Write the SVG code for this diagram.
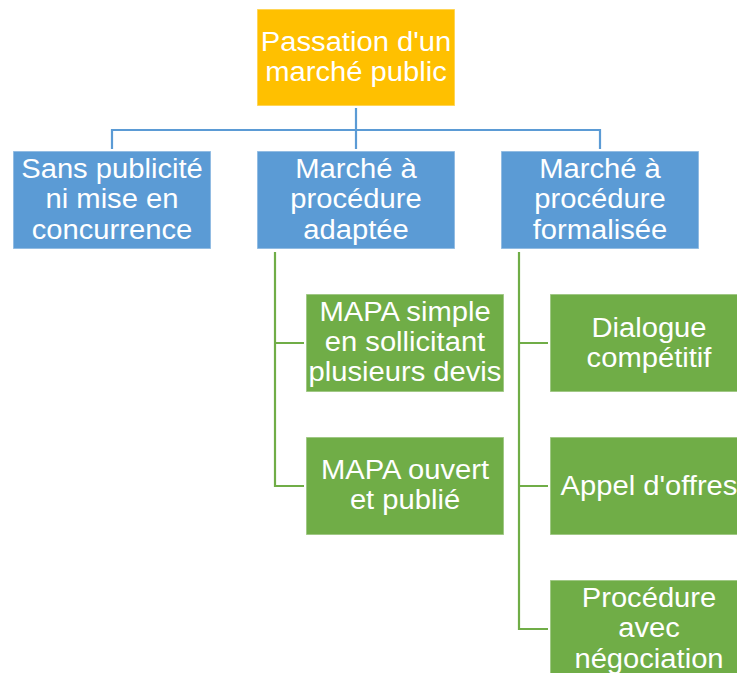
<svg xmlns="http://www.w3.org/2000/svg" width="737" height="673" viewBox="0 0 737 673">
<style>
.box{stroke:#ffffff;stroke-opacity:0.45;stroke-width:1.5}
.root{fill:#FFC000}
.l2{fill:#5B9BD5}
.l3{fill:#70AD47}
.lbl{font-family:"Liberation Sans",Arial,sans-serif;font-size:27px;fill:#ffffff;text-anchor:middle}
.cb{fill:none;stroke:#5B9BD5;stroke-width:2.2}
.cg{fill:none;stroke:#70AD47;stroke-width:2.2}
</style>
<rect width="737" height="673" fill="#ffffff"/>
<g id="connectors">
<path class="cb" d="M356,108 V130 M112,130 H600 M112,129 V149 M356,130 V149 M600,129 V149"/>
<path class="cg" d="M275,252 V487 M274,343 H304 M274,486 H304"/>
<path class="cg" d="M519,252 V630 M518,343 H548 M518,486 H548 M518,629 H548"/>
</g>
<g id="n-root">
<rect class="box root" x="257" y="9" width="198" height="97"/>
<text class="lbl" transform="translate(356,0) scale(1.08,1)"><tspan x="0" y="51">Passation d'un</tspan><tspan x="0" y="81">marché public</tspan></text>
</g>
<g id="n-sans">
<rect class="box l2" x="13" y="151" width="198" height="98"/>
<text class="lbl" transform="translate(112,0) scale(1.08,1)"><tspan x="0" y="178">Sans publicité</tspan><tspan x="0" y="208.5">ni mise en</tspan><tspan x="0" y="239">concurrence</tspan></text>
</g>
<g id="n-mapa">
<rect class="box l2" x="257" y="151" width="198" height="98"/>
<text class="lbl" transform="translate(356,0) scale(1.08,1)"><tspan x="0" y="178">Marché à</tspan><tspan x="0" y="208.5">procédure</tspan><tspan x="0" y="239">adaptée</tspan></text>
</g>
<g id="n-formalisee">
<rect class="box l2" x="501" y="151" width="198" height="98"/>
<text class="lbl" transform="translate(600,0) scale(1.08,1)"><tspan x="0" y="178">Marché à</tspan><tspan x="0" y="208.5">procédure</tspan><tspan x="0" y="239">formalisée</tspan></text>
</g>
<g id="n-mapa-simple">
<rect class="box l3" x="306" y="294" width="198" height="98"/>
<text class="lbl" transform="translate(405,0) scale(1.08,1)"><tspan x="0" y="321.5">MAPA simple</tspan><tspan x="0" y="351.5">en sollicitant</tspan><tspan x="0" y="381.5">plusieurs devis</tspan></text>
</g>
<g id="n-mapa-ouvert">
<rect class="box l3" x="306" y="437" width="198" height="98"/>
<text class="lbl" transform="translate(405,0) scale(1.08,1)"><tspan x="0" y="479.5">MAPA ouvert</tspan><tspan x="0" y="509.5">et publié</tspan></text>
</g>
<g id="n-dialogue">
<rect class="box l3" x="550" y="294" width="198" height="98"/>
<text class="lbl" transform="translate(649,0) scale(1.08,1)"><tspan x="0" y="337">Dialogue</tspan><tspan x="0" y="367.5">compétitif</tspan></text>
</g>
<g id="n-appel">
<rect class="box l3" x="550" y="437" width="198" height="98"/>
<text class="lbl" transform="translate(649,0) scale(1.08,1)"><tspan x="0" y="495">Appel d'offres</tspan></text>
</g>
<g id="n-procedure">
<rect class="box l3" x="550" y="580" width="198" height="98"/>
<text class="lbl" transform="translate(649,0) scale(1.08,1)"><tspan x="0" y="607">Procédure</tspan><tspan x="0" y="637.5">avec</tspan><tspan x="0" y="668">négociation</tspan></text>
</g>
</svg>
